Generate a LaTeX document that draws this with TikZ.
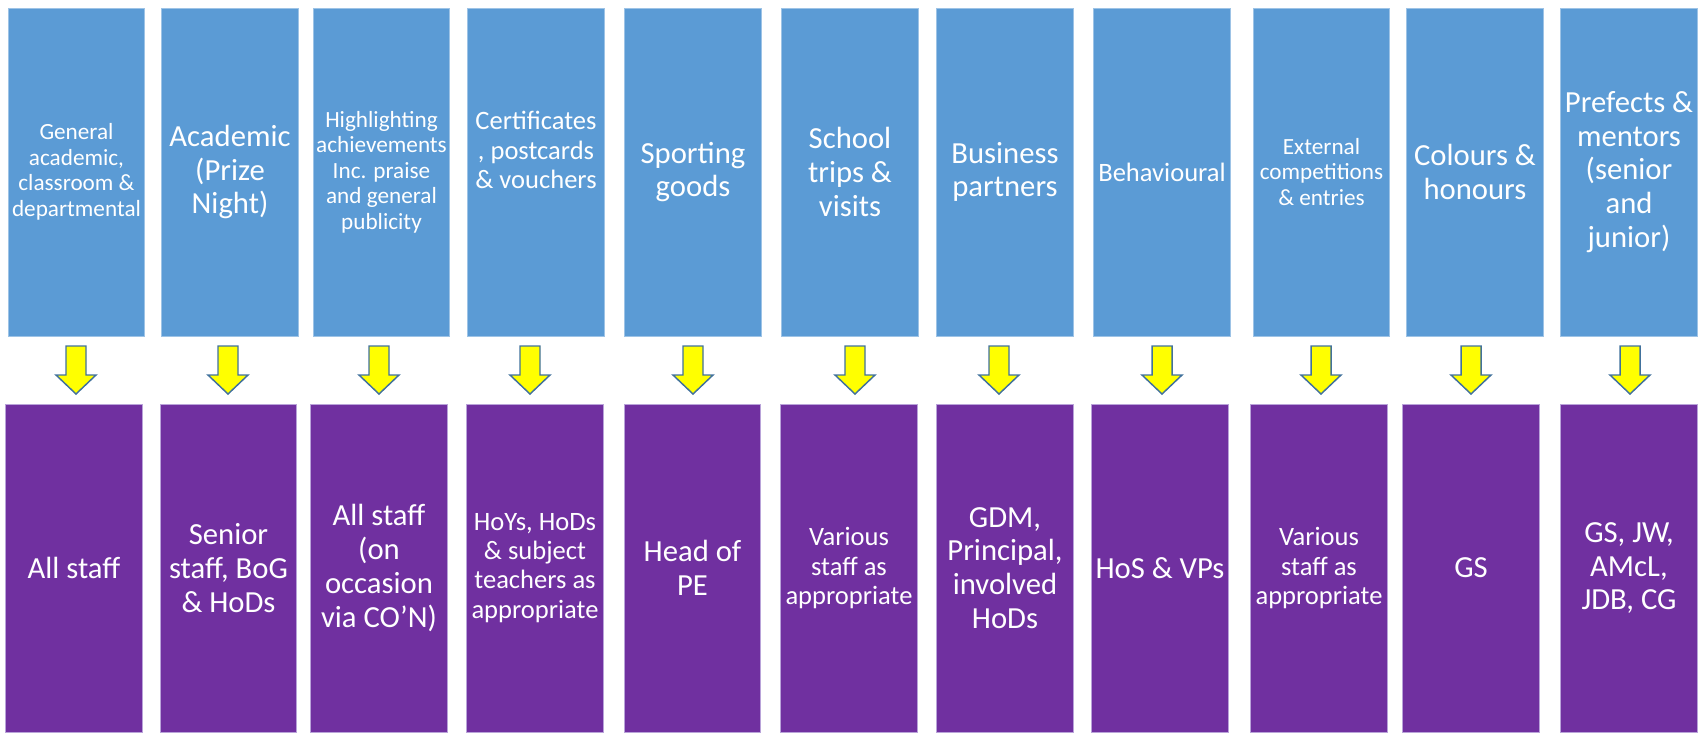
\documentclass[tikz,border=0pt]{standalone}
\usepackage{fontspec}
\setmainfont{Carlito}
\definecolor{topblue}{HTML}{5B9BD5}
\definecolor{topedge}{HTML}{9DC3E6}
\definecolor{botpurple}{HTML}{7030A0}
\definecolor{botedge}{HTML}{B9A3D9}
\definecolor{arrowfill}{HTML}{FFFF00}
\definecolor{arrowedge}{HTML}{41719C}
\begin{document}
\begin{tikzpicture}[x=0.75pt,y=-0.75pt,
  topbox/.style={fill=topblue,draw=topedge,line width=0.5pt,minimum width=102.4pt,minimum height=246pt,inner sep=0pt,text=white,align=center},
  botbox/.style={fill=botpurple,draw=botedge,line width=0.5pt,minimum width=102.4pt,minimum height=246pt,inner sep=0pt,text=white,align=center},
  big/.style={font=\fontsize{23}{25.3}\selectfont},
  med/.style={font=\fontsize{19.9}{21.9}\selectfont},
  sml/.style={font=\fontsize{17.4}{19.1}\selectfont},
  blockarrow/.pic={\path[fill=arrowfill,draw=arrowedge,line width=1.1pt,line join=miter]
      (-10,-24) -- (10,-24) -- (10,5) -- (20,5) -- (0,24) -- (-20,5) -- (-10,5) -- cycle;}
]
\useasboundingbox (0,0) rectangle (1698,733);

% top row
\node[topbox,sml] (t1) at (76.5,172) {General\\academic,\\classroom \&\\departmental};
\node[topbox,big] (t2) at (230,172) {Academic\\(Prize\\Night)};
\node[topbox,sml] (t3) at (381.5,172) {Highlighting\\achievements\\Inc. praise\\and general\\publicity};
\node[topbox] (t4) at (536,172) {};
\node[med,text=white,align=center] (t4txt) at (536,150) {Certificates\\, postcards\\\& vouchers};
\node[topbox,big] (t5) at (693,172) {Sporting\\goods};
\node[topbox,big] (t6) at (850,172) {School\\trips \&\\visits};
\node[topbox,big] (t7) at (1005,172) {Business\\partners};
\node[topbox,med] (t8) at (1162,172) {Behavioural};
\node[topbox,sml] (t9) at (1321.5,172) {External\\competitions\\\& entries};
\node[topbox,big] (t10) at (1475,172) {Colours \&\\honours};
\node[topbox,big] (t11) at (1629,172) {Prefects \&\\mentors\\(senior\\and\\junior)};

% bottom row
\node[botbox,big] (b1) at (74,568) {All staff};
\node[botbox,big] (b2) at (228.5,568) {Senior\\staff, BoG\\\& HoDs};
\node[botbox,big] (b3) at (379,568) {All staff\\(on\\occasion\\via CO’N)};
\node[botbox,med] (b4) at (535,568) {HoYs, HoDs\\\& subject\\teachers as\\appropriate};
\node[botbox,big] (b5) at (692.5,568) {Head of\\PE};
\node[botbox,med] (b6) at (849,568) {Various\\staff as\\appropriate};
\node[botbox,big] (b7) at (1005,568) {GDM,\\Principal,\\involved\\HoDs};
\node[botbox,big] (b8) at (1160,568) {HoS \& VPs};
\node[botbox,med] (b9) at (1319,568) {Various\\staff as\\appropriate};
\node[botbox,big] (b10) at (1471,568) {GS};
\node[botbox,big] (b11) at (1629,568) {GS, JW,\\AMcL,\\JDB, CG};

% arrows
\coordinate (a1) at (76,370);
\coordinate (a2) at (228,370);
\coordinate (a3) at (379,370);
\coordinate (a4) at (530,370);
\coordinate (a5) at (693,370);
\coordinate (a6) at (855,370);
\coordinate (a7) at (999,370);
\coordinate (a8) at (1162,370);
\coordinate (a9) at (1321,370);
\coordinate (a10) at (1471,370);
\coordinate (a11) at (1630,370);
\foreach \i in {1,...,11} {\pic at (a\i) {blockarrow};}
\end{tikzpicture}
\end{document}
